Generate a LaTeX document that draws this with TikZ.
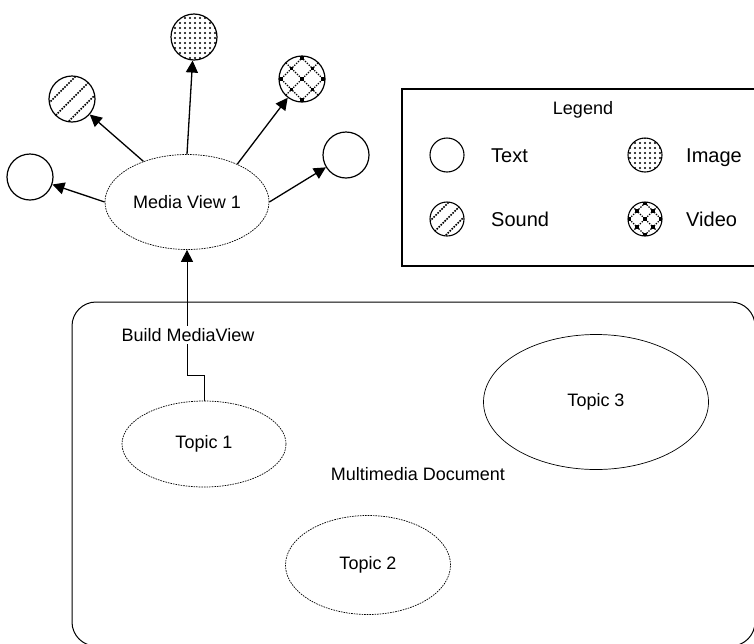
\documentclass[tikz,border=0pt]{standalone}
\usepackage{fontspec}
\setmainfont{Liberation Sans}
\usetikzlibrary{arrows.meta,patterns.meta,calc,shapes.geometric}

\tikzset{
  lbl/.style={font=\fontsize{18}{21}\selectfont, inner sep=1pt},
  lgd/.style={font=\fontsize{20}{24}\selectfont, inner sep=0pt, anchor=base west},
  dotline/.style={draw, line width=0.7pt, dash pattern=on 1.6pt off 1pt},
  blob/.style={ellipse, dotline, inner sep=0pt},
  icon/.style={circle, draw, line width=1.2pt, inner sep=0pt, minimum size=46pt},
  licon/.style={circle, draw, line width=1.1pt, inner sep=0pt, minimum size=34pt},
  imgfill/.style={pattern={Dots[distance=5pt, radius=1.2pt]}},
  % diagonal dotted stripes, #1 = horizontal shift between stripes
  sndfill/.style={path picture={
      \foreach \k in {-2,...,2}{
        \draw[line width=1.6pt, dash pattern=on 1.6pt off 1.2pt]
          ($(path picture bounding box.center)+(\k*#1,0)+(-40pt,-40pt)$) -- ++(80pt,80pt);
      }}},
  % dotted diagonal lattice with square knots, #1 = knot spacing
  vidfill/.style={path picture={
      \foreach \k in {-2,...,2}{
        \draw[line width=1.3pt, dash pattern=on 1.3pt off 1.3pt]
          ($(path picture bounding box.center)+(\k*#1,0)+(-40pt,-40pt)$) -- ++(80pt,80pt);
        \draw[line width=1.3pt, dash pattern=on 1.3pt off 1.3pt]
          ($(path picture bounding box.center)+(\k*#1,0)+(40pt,-40pt)$) -- ++(-80pt,80pt);
      }
      \foreach \i in {-2,...,2}{\foreach \j in {-2,...,2}{
        \fill ($(path picture bounding box.center)+({(\i+\j)*#1/2},{(\i-\j)*#1/2})$)
          +(-1.8pt,-1.8pt) rectangle +(1.8pt,1.8pt);
      }}}},
  tip/.style={-{Triangle[length=12pt,width=12pt]}},
  arr/.style={line width=1.3pt, tip},
}

\begin{document}
\begin{tikzpicture}[x=1pt, y=-1pt]
  \useasboundingbox (0,0) rectangle (754,643);
  \clip (0,0) rectangle (754,643);

  % document frame and legend frame
  \draw[line width=1pt, rounded corners=24pt] (72,302) rectangle (755,646);
  \draw[line width=1.2pt] (402,89) rectangle (760,266);

  % media view and its parts
  \node[blob, minimum width=164pt, minimum height=95pt] (mv) at (187,202) {};
  \node[lbl] at (mv.center) {Media View 1};

  \node[icon] (txtA) at (30,177) {};
  \node[icon, sndfill=19pt] (snd) at (72,99) {};
  \node[icon, imgfill] (img) at (194,37) {};
  \node[icon, vidfill=21pt] (vid) at (302,79) {};
  \node[icon] (txtB) at (346,155) {};

  \draw[arr] (mv.180) -- (txtA);
  \draw[arr] (mv.137) -- (snd);
  \draw[arr] (mv.90) -- (img);
  \draw[arr] (mv.37) -- (vid);
  \draw[arr] (mv.0) -- (txtB);

  % topics
  \node[blob, minimum width=164pt, minimum height=86pt] (tp1) at (204,444) {};
  \node[lbl] at (tp1.center) {Topic 1};
  \node[blob, minimum width=165pt, minimum height=99pt] (tp2) at (368,565) {};
  \node[lbl] at (tp2.center) {Topic 2};
  \node[ellipse, draw, line width=0.7pt, inner sep=0pt, minimum width=225pt, minimum height=135pt] (tp3) at (596,402) {};
  \node[lbl] at (tp3.center) {Topic 3};

  \node[lbl] (doc) at (418,474) {Multimedia Document};

  % build connector
  \draw[line width=0.9pt, tip] (tp1.north) -- ++(0,-25) -| (mv.south);
  \node[lbl, fill=white, inner sep=2pt] (build) at (188,335) {Build MediaView};

  % legend
  \node[lbl] (lgtitle) at (583,110) {Legend};
  \node[licon] (lt) at (447,155) {};
  \node[lgd] at (491,162) {Text};
  \node[licon, imgfill] (li) at (645,155) {};
  \node[lgd] at (686,162) {Image};
  \node[licon, sndfill=15pt] (ls) at (447,219) {};
  \node[lgd] at (491,226) {Sound};
  \node[licon, vidfill=16pt] (lv) at (645,219) {};
  \node[lgd] at (686,226) {Video};
\end{tikzpicture}
\end{document}
